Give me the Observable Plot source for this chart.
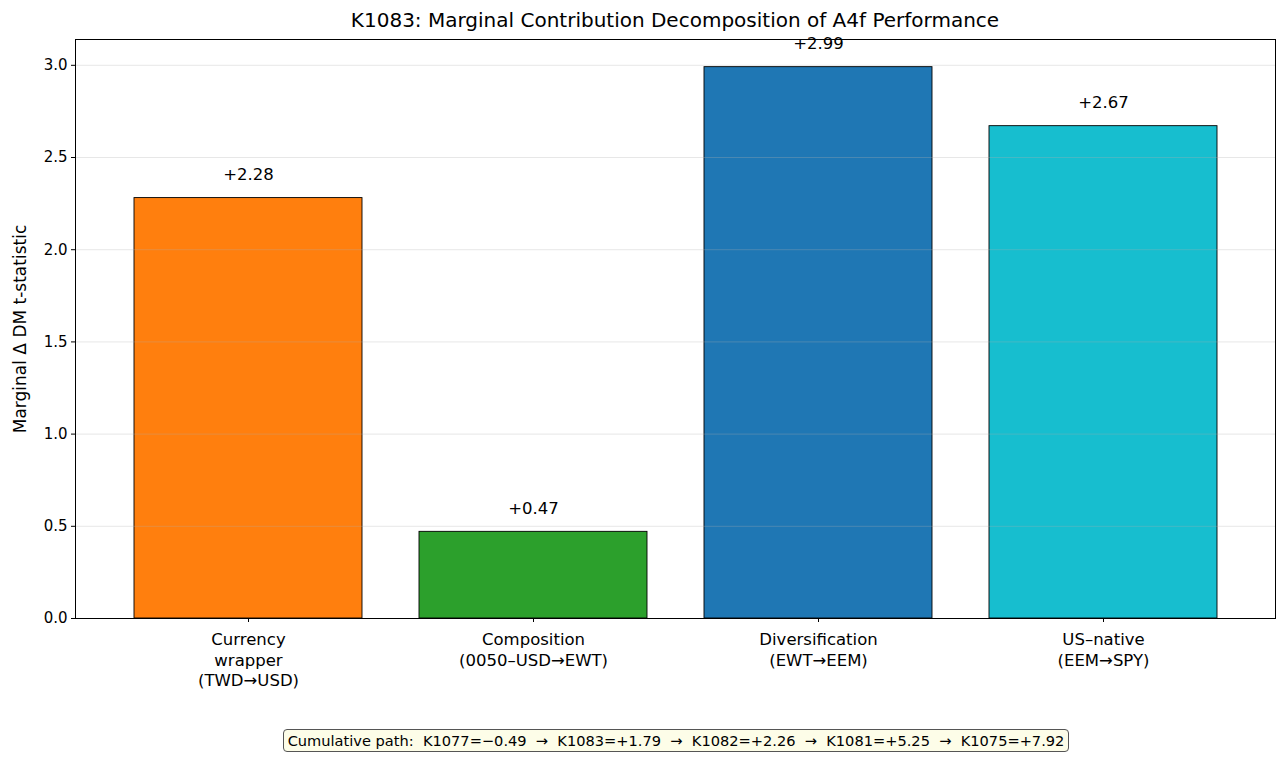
<!DOCTYPE html>
<html>
<head>
<meta charset="utf-8">
<script src="https://cdn.jsdelivr.net/npm/d3@7"></script>
<script src="https://cdn.jsdelivr.net/npm/@observablehq/plot@0.6"></script>
<style>
  html, body { margin: 0; padding: 0; background: #fff; }
  body { width: 1286px; height: 761px; position: relative; overflow: hidden;
         font-family: "DejaVu Sans", sans-serif; }
  #title { position: absolute; left: 75px; width: 1200px; top: 7px; text-align: center;
           font-size: 20px; line-height: 26px; color: #000; }
  #chart { position: absolute; left: 0; top: 35px; }
  #path { position: absolute; left: 283px; top: 729px; width: 786px; height: 23px;
          box-sizing: border-box; border: 1.2px solid #555; border-radius: 4px;
          background: #fdfde8; font-size: 14.6px; line-height: 21px; text-align: center;
          white-space: pre; color: #000; }
</style>
</head>
<body>
<div id="title">K1083: Marginal Contribution Decomposition of A4f Performance</div>
<div id="chart"></div>
<div id="path"></div>
<script>
// Marginal contribution of each step along the A4f path
const steps = ["Currency\nwrapper\n(TWD→USD)", "Composition\n(0050–USD→EWT)", "Diversification\n(EWT→EEM)", "US–native\n(EEM→SPY)"];
const deltas = [2.28, 0.47, 2.99, 2.67];
const colors = ["#ff7f0e", "#2ca02c", "#1f77b4", "#17becf"];
const yTicks = [0, 0.5, 1.0, 1.5, 2.0, 2.5, 3.0];

// Cumulative path text
const pathModels = ["K1077", "K1083", "K1082", "K1081", "K1075"];
const pathValues = ["−0.49", "+1.79", "+2.26", "+5.25", "+7.92"];

const rows = steps.map((s, i) => ({step: s, delta: deltas[i], color: colors[i],
  label: (deltas[i] >= 0 ? "+" : "") + deltas[i].toFixed(2)}));

const chart = Plot.plot({
  width: 1286,
  height: 726,
  marginLeft: 75,
  marginRight: 11,
  marginTop: 4,
  marginBottom: 143,
  style: {fontFamily: "DejaVu Sans, sans-serif", fontSize: "13px", color: "#000", background: "#fff"},
  x: {domain: steps, paddingInner: 0.2, paddingOuter: 0.2, label: null, axis: null},
  y: {domain: [0, 3.14], label: null, axis: null},
  marks: [
    Plot.barY(rows, {x: "step", y: "delta", fill: "color", stroke: "#000", strokeWidth: 0.9}),
    Plot.ruleY(yTicks, {stroke: "#b0b0b0", strokeOpacity: 0.3, strokeWidth: 1}),
    Plot.text(rows, {x: "step", y: "delta", text: "label", dy: -18, lineAnchor: "bottom", fontSize: 16.5, fill: "#000"}),
    Plot.frame({stroke: "#000", strokeWidth: 1}),
    Plot.axisY(yTicks, {tickFormat: d => d.toFixed(1), tickSize: 4, tickPadding: 4, fontSize: 15, label: null}),
    Plot.axisX({tickSize: 4, tickPadding: 8, fontSize: 16.5, lineHeight: 1.25, label: null}),
    Plot.text(["Marginal Δ DM t-statistic"], {frameAnchor: "left", textAnchor: "middle", dx: -55, rotate: -90, fontSize: 17, fill: "#000"})
  ]
});
document.getElementById("chart").appendChild(chart);

document.getElementById("path").textContent =
  "Cumulative path:  " + pathModels.map((m, i) => m + "=" + pathValues[i]).join("  →  ");
</script>
</body>
</html>
